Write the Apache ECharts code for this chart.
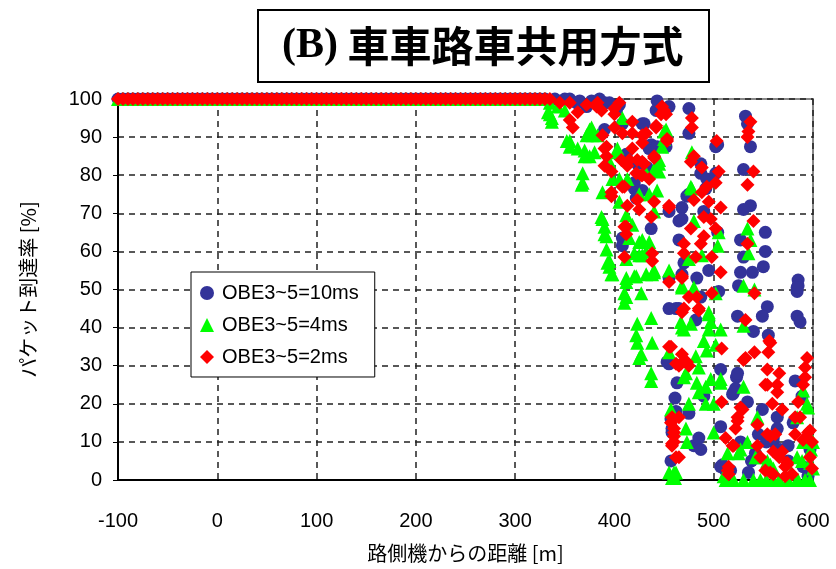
<!DOCTYPE html>
<html>
<head>
<meta charset="utf-8">
<script src="https://cdn.jsdelivr.net/npm/echarts@6/dist/echarts.min.js"></script>
<style>
  html, body { margin: 0; padding: 0; background: #fff; }
  #main { width: 836px; height: 569px; }
</style>
</head>
<body>
<div id="main"></div>
<script>
// 凡例名
const seriesNames = ['OBE3~5=10ms', 'OBE3~5=4ms', 'OBE3~5=2ms']

// 到達率100%が続く区間の距離 [m]（全系列共通）
const flatDist = [-100, -95, -90, -85, -80, -75, -70, -65, -60, -55, -50, -45, -40, -35, -30, -25, -20, -15, -10, -5,
  0, 5, 10, 15, 20, 25, 30, 35, 40, 45, 50, 55, 60, 65, 70, 75, 80, 85, 90, 95,
  100, 105, 110, 115, 120, 125, 130, 135, 140, 145, 150, 155, 160, 165, 170, 175, 180, 185, 190, 195,
  200, 205, 210, 215, 220, 225, 230, 235, 240, 245, 250, 255, 260, 265, 270, 275, 280, 285, 290, 295,
  300, 305, 310, 315, 320, 325, 330]

// [距離, 到達率] 10ms
const obe10ms = [[340, 100], [350, 100], [355, 100], [362, 99], [365, 99.5], [372, 98], [377, 99.5], [385, 100], [390, 99], [395, 99],
  [402, 97], [405, 98.5], [443, 99.5], [448, 97.5], [442, 97], [455, 98],
  [390, 92], [408, 93.5], [428, 93.5], [430, 93.5], [437, 88], [435, 87], [412, 85.5], [423, 83], [433, 82], [420, 76.5],
  [420, 78], [428, 76], [422, 74], [452, 87.5], [443, 87.5], [455, 70.5], [437, 66], [408, 63.5], [408, 61.5], [455, 53],
  [465, 68], [465, 63], [475, 97.5], [475, 91], [502, 87.5], [504, 88], [487, 83], [487, 80.5], [493, 79], [492, 76.5],
  [502, 80.5], [473, 74.5], [468, 71.5], [468, 68.5], [490, 70.5], [475, 75], [504, 65],
  [532, 95.5], [534, 93.5], [537, 87.5], [530, 81.5], [537, 72], [530, 71], [552, 65], [552, 60], [550, 56], [530, 58.5],
  [527, 63], [527, 54.5], [539, 54.5], [495, 55], [470, 57], [483, 53], [585, 52.5], [585, 51],
  [584, 49.5], [584, 43], [587, 41.5], [554, 45.5], [549, 43], [540, 39], [555, 38], [524, 43], [523, 27], [522, 24],
  [519, 22.5], [507, 29], [507, 14], [509, 4], [512, 2.5], [525, 51], [468, 54], [465, 45], [482, 42], [453, 31],
  [463, 25.5], [461, 21.5], [457, 16], [458, 12.5], [457, 5], [480, 9], [485, 11], [487, 8], [475, 17.5], [490, 22],
  [534, 20.5], [549, 18.5], [564, 16.5], [564, 13.5], [560, 10], [567, 8], [580, 15], [582, 26], [589, 22], [597, 8],
  [542, 7], [527, 10], [517, 2.5], [505, 49.5], [487, 48], [462, 45], [455, 45], [455, 30.5], [462, 18], [458, 13.5],
  [507, 3.5], [560, 11], [590, 3.5], [520, 23], [524, 28], [584, 50.5], [535, 2], [555, 3], [575, 5], [595, 1],
  [545, 12], [553, 10], [575, 9], [538, 5]]

// [距離, 到達率] 4ms
const obe4ms = [[335, 99], [337, 95], [335, 96], [333, 96.5], [337, 94], [343, 98], [350, 97], [352, 89], [355, 89], [355, 87.5],
  [363, 87], [375, 92], [377, 92.5], [378, 90.5], [372, 90.5], [383, 90.5], [370, 85], [380, 86], [370, 86.5], [375, 85],
  [368, 80.5], [368, 78], [367, 77.5], [395, 83.5], [393, 83.5], [398, 79], [402, 86], [403, 87], [408, 95], [405, 79],
  [413, 79], [432, 80.5], [440, 81.5], [445, 84], [452, 92], [448, 87.5], [450, 91.5], [450, 89.5], [445, 83], [445, 81],
  [435, 75], [388, 75.5], [405, 73], [425, 75], [443, 76], [412, 69.5], [440, 70.5], [388, 68.5], [387, 69], [390, 66.5],
  [392, 64], [390, 64.5], [392, 60.5], [393, 57], [395, 56], [395, 57.5], [398, 54], [397, 54], [412, 53], [412, 52],
  [420, 53.5], [422, 53.5], [428, 62.5], [428, 63], [412, 58], [425, 59], [418, 67], [415, 63.5], [420, 59.5], [432, 60],
  [440, 55], [455, 55], [425, 62.5], [435, 62.5], [428, 59], [440, 54.5],
  [410, 49], [412, 48], [427, 49], [410, 46.5], [437, 42.5], [423, 41], [422, 38], [423, 36], [438, 36], [425, 32],
  [437, 28], [437, 26], [455, 33.5], [457, 18.5], [458, 0.5], [460, 2], [438, 54], [427, 33], [432, 54],
  [478, 86], [477, 77], [478, 76.5], [480, 68], [505, 65], [504, 61.5], [534, 66], [537, 63], [535, 59.5], [488, 59],
  [475, 58], [468, 51], [468, 50.5], [480, 50.5], [495, 43.5], [467, 41.5], [470, 39.5], [477, 41], [495, 44], [497, 41.5],
  [495, 39.5], [507, 39.5], [490, 36.5], [502, 35.5], [493, 34], [482, 32.5], [485, 29.5], [472, 28], [483, 25.5], [485, 23],
  [497, 26.5], [507, 26.5], [492, 24.5], [475, 20], [492, 20], [500, 20], [472, 13.5], [473, 10], [500, 12.5], [530, 24.5],
  [527, 8], [534, 10], [514, 7], [510, 1], [461, 0.5], [544, 16.5], [542, 6], [554, 5], [547, 0], [560, 0],
  [584, 6], [584, 16.5], [594, 20], [590, 23.5], [566, 0], [584, 0], [597, 0], [597, 4.5], [530, 51], [541, 50],
  [502, 49], [530, 40.5], [468, 40], [470, 27], [507, 25.5], [525, 7], [547, 6], [557, 4], [589, 5], [595, 19],
  [585, 0], [540, 0], [512, 0], [455, 2], [462, 2], [520, 0], [530, 0], [553, 0], [575, 0], [592, 0],
  [600, 3], [590, 10], [578, 2], [600, 10], [560, 3], [598, 8], [596, 12]]

// [距離, 到達率] 2ms
const obe2ms = [[335, 100], [345, 99], [355, 99], [355, 94.5], [358, 92.5], [363, 96.5], [372, 98.5], [383, 99], [387, 97], [382, 98],
  [405, 99], [400, 96], [400, 97.5], [400, 92.5], [418, 94], [408, 91], [418, 91], [428, 90.5], [390, 87], [388, 90.5],
  [392, 87.5], [392, 85], [390, 82.5], [397, 81], [407, 84], [418, 87], [415, 84], [423, 84], [430, 83], [413, 82.5],
  [422, 80.5], [428, 80], [435, 79], [440, 84.5], [442, 92.5], [450, 97], [453, 89], [408, 77], [410, 77], [397, 75.5],
  [397, 74.5], [413, 72], [423, 73.5], [425, 71], [437, 69], [440, 73], [455, 72], [412, 66.5], [410, 66.5], [412, 64.5],
  [410, 58.5], [438, 59.5], [438, 57.5], [455, 52],
  [448, 98], [447, 96], [452, 96], [442, 93], [432, 91], [428, 88.5], [453, 89.5], [440, 85], [428, 83.5], [427, 80],
  [478, 95], [478, 92.5], [480, 85], [477, 83.5], [488, 82], [503, 89], [505, 81], [502, 78], [493, 77], [488, 75.5],
  [480, 73.5], [495, 73], [507, 71.5], [455, 71.5], [477, 66], [490, 69], [497, 68.5], [490, 64], [487, 62], [502, 66],
  [470, 62], [470, 59.5], [482, 58.5], [498, 58.5], [507, 54.5], [468, 53],
  [537, 94], [535, 91.5], [534, 90], [540, 81], [534, 77.5], [540, 68], [534, 62],
  [498, 49], [485, 44.5], [475, 48], [470, 45], [508, 34.5], [532, 42], [541, 49], [557, 36], [541, 33.5], [532, 32],
  [554, 29], [566, 28], [554, 25], [564, 25], [564, 23], [559, 20], [569, 18.5], [594, 32], [592, 29.5], [592, 27],
  [590, 25], [585, 20.5], [587, 16.5], [582, 16.5], [597, 13], [582, 12], [590, 10.5], [599, 10], [597, 6], [599, 3],
  [508, 20.5], [529, 18.5], [524, 16.5], [522, 13.5], [512, 11], [520, 9], [515, 3.5], [515, 1.5], [544, 9], [547, 6],
  [557, 11.5], [560, 7.5], [566, 6], [574, 4], [557, 2], [572, 1], [544, 14.5], [458, 16.5], [465, 16.5], [460, 11.5],
  [458, 9], [465, 6], [455, 35], [468, 33], [473, 31], [465, 30], [468, 53.5], [483, 48], [468, 44], [485, 45],
  [475, 30], [467, 30.5], [527, 19], [524, 15.5], [519, 9], [514, 2.5], [530, 31.5], [556, 36.5], [555, 33.5], [552, 25],
  [562, 12], [554, 12], [569, 7.5], [572, 3.5], [560, 1.5], [579, 1.5], [595, 12.5], [574, 4.5], [552, 2.5], [457, 35],
  [462, 30.5], [457, 15], [460, 12.5], [458, 9.5], [462, 6], [460, 10], [460, 13.5]]

const flatPoints = flatDist.map(d => [d, 100])

const fontEn = "'Liberation Sans', 'Noto Sans CJK JP', sans-serif"
const fontJa = "'Noto Sans CJK JP', 'Liberation Sans', sans-serif"

let myChart = echarts.init(document.getElementById('main'))

let option = {
    backgroundColor: '#fff',
    animation: false,
    title: {
        text: '{b|(B)}{j| 車車路車共用方式}',
        left: 258,
        top: 10,
        borderColor: '#000',
        borderWidth: 2,
        padding: [15, 26, 15, 24],
        textStyle: {
            rich: {
                b: { fontFamily: "'Liberation Serif', serif", fontWeight: 'bold', fontSize: 42, color: '#000' },
                j: { fontFamily: fontJa, fontWeight: 'bold', fontSize: 42, color: '#000' }
            }
        }
    },
    legend: {
        orient: 'vertical',
        left: 191,
        top: 272,
        data: seriesNames,
        backgroundColor: '#fff',
        borderColor: '#000',
        borderWidth: 1,
        padding: [11, 16, 10, 9],
        itemGap: 12,
        itemWidth: 14,
        itemHeight: 14,
        textStyle: { fontFamily: fontEn, fontSize: 20, color: '#000', padding: [0, 0, 0, 3] }
    },
    grid: {
        left: 118,
        right: 23,
        top: 99,
        bottom: 89,
        show: true,
        borderColor: '#888',
        borderWidth: 2
    },
    xAxis: {
        type: 'value',
        min: -100,
        max: 600,
        interval: 100,
        name: '路側機からの距離 [m]',
        nameLocation: 'middle',
        nameGap: 63,
        nameTextStyle: { fontFamily: fontJa, fontSize: 20, color: '#000' },
        axisLine: { onZero: false, lineStyle: { color: '#000', width: 2 } },
        axisTick: { show: false },
        axisLabel: { fontFamily: fontEn, fontSize: 20, color: '#000', margin: 31 },
        splitLine: { lineStyle: { color: '#222', type: [6, 5], width: 1.5 } }
    },
    yAxis: {
        type: 'value',
        min: 0,
        max: 100,
        interval: 10,
        name: 'パケット到達率 [%]',
        nameLocation: 'middle',
        nameGap: 80,
        nameTextStyle: { fontFamily: fontJa, fontSize: 20, color: '#000' },
        axisLine: { show: true, onZero: false, lineStyle: { color: '#000', width: 2 } },
        axisTick: { show: true, length: 5, lineStyle: { color: '#000' } },
        axisLabel: { fontFamily: fontEn, fontSize: 20, color: '#000', margin: 16 },
        splitLine: { lineStyle: { color: '#222', type: [6, 5], width: 1.5 } }
    },
    series: [{
            name: seriesNames[0],
            type: 'scatter',
            symbol: 'circle',
            symbolSize: 13,
            itemStyle: { color: '#333399', opacity: 1 },
            data: flatPoints.concat(obe10ms)
        },
        {
            name: seriesNames[1],
            type: 'scatter',
            symbol: 'triangle',
            symbolSize: 14,
            itemStyle: { color: '#00ff00', opacity: 1 },
            data: flatPoints.concat(obe4ms)
        },
        {
            name: seriesNames[2],
            type: 'scatter',
            symbol: 'diamond',
            symbolSize: 14,
            itemStyle: { color: '#ff0000', opacity: 1 },
            data: flatPoints.concat(obe2ms)
        }
    ]
}

myChart.setOption(option)
</script>
</body>
</html>
